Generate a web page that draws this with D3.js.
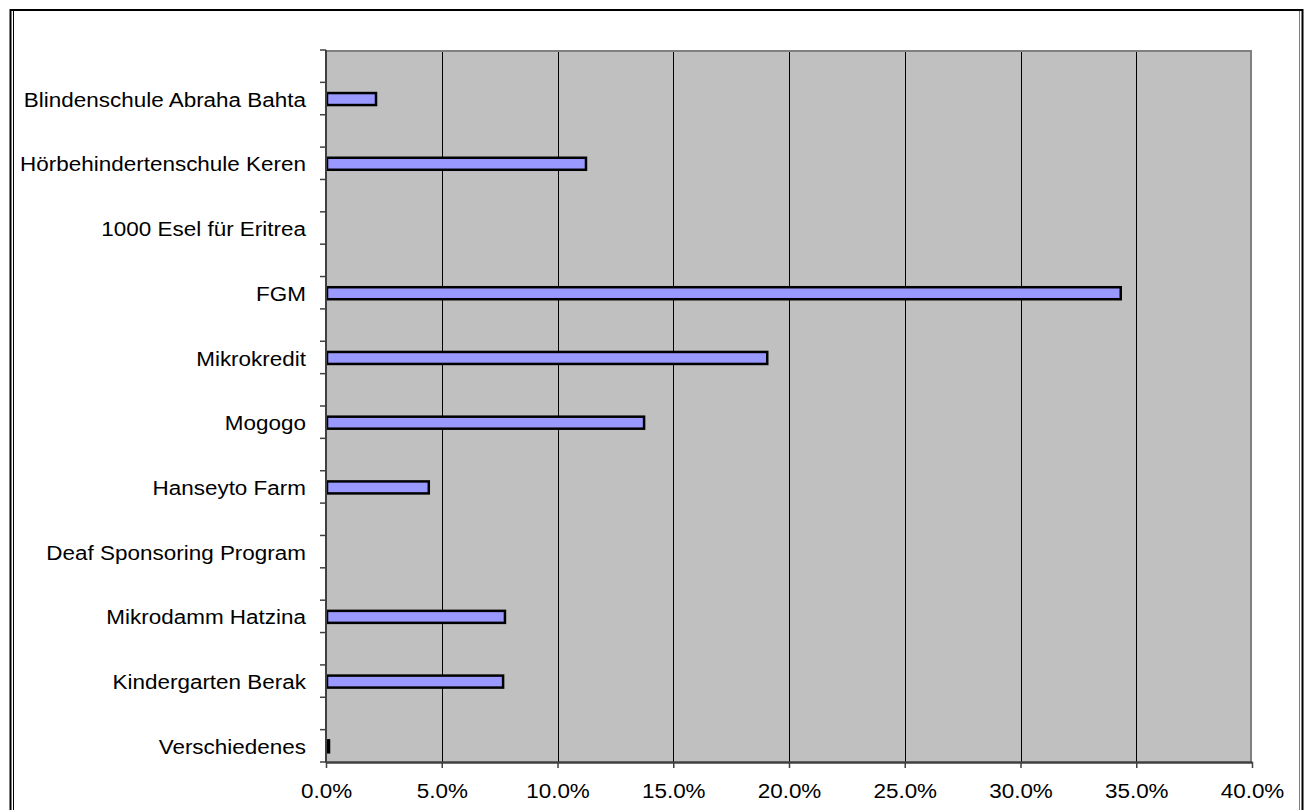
<!DOCTYPE html>
<html>
<head>
<meta charset="utf-8">
<script src="https://cdn.jsdelivr.net/npm/d3@7"></script>
<style>
  body { margin: 0; background: #fff; }
  text { font-family: "Liberation Sans", Arial, sans-serif; fill: #000; }
</style>
</head>
<body>
<div id="canvas"></div>
<script>
// projects, top to bottom
const categories = [
  "Blindenschule Abraha Bahta",
  "Hörbehindertenschule Keren",
  "1000 Esel für Eritrea",
  "FGM",
  "Mikrokredit",
  "Mogogo",
  "Hanseyto Farm",
  "Deaf Sponsoring Program",
  "Mikrodamm Hatzina",
  "Kindergarten Berak",
  "Verschiedenes"
];
// share in percent
const values = [2.16, 11.23, 0, 34.33, 19.06, 13.74, 4.44, 0, 7.73, 7.65, 0.13];
const xTicks = [0, 5, 10, 15, 20, 25, 30, 35, 40];

const width = 1306;
const height = 810;
const margin = { top: 50, right: 54, bottom: 48, left: 326 };
const fontSize = 21;
const stretch = 1.07;

const svg = d3.select("#canvas")
  .append("svg")
  .attr("width", width)
  .attr("height", height);

// outer chart frame
svg.append("rect")
  .attr("x", 10.5).attr("y", 10)
  .attr("width", 1292).attr("height", 820)
  .attr("fill", "none")
  .attr("stroke", "#000")
  .attr("stroke-width", 2);
svg.append("line")
  .attr("x1", 13.5).attr("x2", 13.5).attr("y1", 11).attr("y2", height)
  .attr("stroke", "#000").attr("stroke-width", 1);
svg.append("line")
  .attr("x1", 1299.5).attr("x2", 1299.5).attr("y1", 11).attr("y2", height)
  .attr("stroke", "#808080").attr("stroke-width", 1);

const x = d3.scaleLinear()
  .domain([0, 40])
  .range([margin.left, width - margin.right]);

// every project sits in the second half of a pair of slots (the first is empty)
const slots = [];
categories.forEach((c, i) => { slots.push("gap" + i); slots.push(c); });
const y = d3.scaleBand()
  .domain(slots)
  .range([margin.top, height - margin.bottom]);

const plotW = x(40) - x(0);
const plotH = y.range()[1] - y.range()[0];

// gray plot background
svg.append("rect")
  .attr("x", x(0)).attr("y", margin.top)
  .attr("width", plotW).attr("height", plotH)
  .attr("fill", "#c0c0c0");

// vertical gridlines
svg.append("g")
  .selectAll("line")
  .data(xTicks.slice(1, -1))
  .join("line")
  .attr("x1", d => Math.round(x(d)) + 0.5)
  .attr("x2", d => Math.round(x(d)) + 0.5)
  .attr("y1", margin.top)
  .attr("y2", margin.top + plotH)
  .attr("stroke", "#000")
  .attr("stroke-width", 1);

// top and right border of the plot area
svg.append("path")
  .attr("d", `M${x(0)},${margin.top + 1}H${x(40) - 1}V${margin.top + plotH}`)
  .attr("fill", "none")
  .attr("stroke", "#808080")
  .attr("stroke-width", 2);

// bars
const barH = 12;
svg.append("g")
  .selectAll("rect")
  .data(categories.map((c, i) => ({ name: c, value: values[i] })).filter(d => d.value > 0))
  .join("rect")
  .attr("x", x(0) + 1)
  .attr("y", d => y(d.name) + y.bandwidth() / 2 - barH / 2 + 0.5)
  .attr("width", d => Math.max(0.5, x(d.value) - x(0) - 1))
  .attr("height", barH)
  .attr("fill", "#9999ff")
  .attr("stroke", "#000")
  .attr("stroke-width", 2.5);

// category axis: ticks on slot boundaries
const yAxis = svg.append("g");
yAxis.selectAll("line")
  .data(slots.map(s => y(s)).concat([y.range()[1]]))
  .join("line")
  .attr("x1", x(0) - 6).attr("x2", x(0))
  .attr("y1", d => d).attr("y2", d => d)
  .attr("stroke", "#404040")
  .attr("stroke-width", 1.5);
yAxis.append("line")
  .attr("x1", x(0)).attr("x2", x(0))
  .attr("y1", margin.top).attr("y2", margin.top + plotH + 1)
  .attr("stroke", "#404040")
  .attr("stroke-width", 2);
yAxis.selectAll("text")
  .data(categories)
  .join("text")
  .attr("transform", d => `translate(306,${y(d) + y.bandwidth() / 2 + 0.5}) scale(${stretch},1)`)
  .attr("dy", "0.36em")
  .attr("text-anchor", "end")
  .attr("font-size", fontSize)
  .text(d => d);

// value axis
const xAxis = svg.append("g")
  .attr("transform", `translate(0,${margin.top + plotH})`)
  .call(d3.axisBottom(x)
    .tickValues(xTicks)
    .tickFormat(d => d.toFixed(1) + "%")
    .tickSize(6)
    .tickSizeOuter(0));
xAxis.select(".domain")
  .attr("stroke", "#404040")
  .attr("stroke-width", 2.5);
xAxis.selectAll(".tick line")
  .attr("stroke", "#404040")
  .attr("stroke-width", 1.5);
xAxis.selectAll(".tick text")
  .attr("y", 36)
  .attr("dy", 0)
  .attr("transform", `scale(${stretch},1)`)
  .attr("font-size", fontSize)
  .attr("font-family", "Liberation Sans, Arial, sans-serif")
  .attr("fill", "#000");
</script>
</body>
</html>
